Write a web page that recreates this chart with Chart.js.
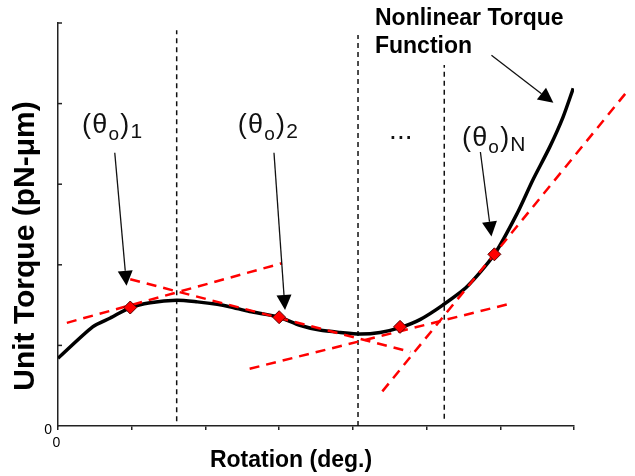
<!DOCTYPE html>
<html>
<head>
<meta charset="utf-8">
<script src="https://cdn.jsdelivr.net/npm/chart.js@4.4.1/dist/chart.umd.min.js"></script>
<style>
html,body{margin:0;padding:0;background:#fff;}
</style>
</head>
<body>
<canvas id="torqueChart" width="635" height="476"></canvas>
<script>
// nonlinear torque curve (rotation, unit torque)
const curveX = [0, 0.47, 0.71, 0.98, 1.25, 1.61, 1.89, 2.16, 2.33, 2.60, 3.00, 3.28, 3.55, 3.83, 4.10, 4.37, 4.64, 4.91, 5.22, 5.55, 5.92, 6.23, 6.44, 6.67, 6.85, 6.99];
const curveY = [0.84, 1.23, 1.34, 1.47, 1.53, 1.56, 1.54, 1.51, 1.48, 1.42, 1.35, 1.25, 1.19, 1.16, 1.14, 1.16, 1.22, 1.32, 1.50, 1.73, 2.13, 2.64, 3.05, 3.46, 3.83, 4.19];

// linearisation points
const markerX = [0.98, 3.00, 4.64, 5.92];
const markerY = [1.47, 1.35, 1.23, 2.13];

// tangent lines at each point
const tangentStartX = [0.12, 0.98, 2.60, 4.40];
const tangentStartY = [1.28, 1.82, 0.71, 0.43];
const tangentEndX = [3.04, 4.78, 6.10, 7.72];
const tangentEndY = [2.02, 0.92, 1.51, 4.15];

// dashed vertical dividers
const guideX = [1.61, 4.07, 5.24];
const guideTop = [4.91, 4.85, 4.48];
const guideBottom = [0.06, 0, 0.09];

const xTickLabels = ['0', '', '', '', '', '', '', ''];
const yTickLabels = ['0', '', '', '', '', ''];

// annotations
const labelSub = ['1', '2', 'N'];
const labelX = [0.326, 2.44, 5.48];
const labelY = [3.635, 3.635, 3.48];
const arrowFromX = [0.77, 2.93, 5.73, 5.88];
const arrowFromY = [3.39, 3.39, 3.40, 4.60];
const arrowToX = [0.93, 3.08, 5.88, 6.72];
const arrowToY = [1.74, 1.44, 2.35, 4.01];

const FONT = "'Liberation Sans', Arial, sans-serif";
Chart.defaults.font.family = FONT;
Chart.defaults.color = '#000';

const datasets = [];
datasets.push({
  data: markerX.map((x, i) => ({x: x, y: markerY[i]})),
  showLine: false,
  pointStyle: 'rectRot',
  pointRadius: 6.5,
  backgroundColor: '#ff0000',
  borderColor: '#5a0000',
  borderWidth: 1,
  order: 0
});
tangentStartX.forEach((x, i) => {
  datasets.push({
    data: [{x: x, y: tangentStartY[i]}, {x: tangentEndX[i], y: tangentEndY[i]}],
    showLine: true,
    borderColor: '#ff0000',
    borderWidth: 2.5,
    borderDash: [10, 7],
    pointRadius: 0,
    clip: false,
    order: 1
  });
});
datasets.push({
  data: curveX.map((x, i) => ({x: x, y: curveY[i]})),
  showLine: true,
  borderColor: '#000',
  borderWidth: 3.5,
  tension: 0.25,
  pointRadius: 0,
  order: 2
});
guideX.forEach((x, i) => {
  datasets.push({
    data: [{x: x, y: guideBottom[i]}, {x: x, y: guideTop[i]}],
    showLine: true,
    borderColor: '#111',
    borderWidth: 1.5,
    borderDash: [5, 4],
    pointRadius: 0,
    order: 3
  });
});

function arrow(ctx, x1, y1, x2, y2) {
  const a = Math.atan2(y2 - y1, x2 - x1);
  const L = 15, W = 7.5;
  const bx = x2 - L * Math.cos(a), by = y2 - L * Math.sin(a);
  ctx.beginPath();
  ctx.moveTo(x1, y1);
  ctx.lineTo(bx, by);
  ctx.stroke();
  ctx.beginPath();
  ctx.moveTo(x2, y2);
  ctx.lineTo(bx + W * Math.sin(a), by - W * Math.cos(a));
  ctx.lineTo(bx - W * Math.sin(a), by + W * Math.cos(a));
  ctx.closePath();
  ctx.fill();
}

function thetaLabel(ctx, x, y, sub) {
  const parts = [
    ['(', '27px', 0], ['θ', '27px', 0], ['o', '19px', 7], [')', '27px', 0], [sub, '21px', 5]
  ];
  parts.forEach(p => {
    ctx.font = p[1] + ' ' + FONT;
    ctx.fillText(p[0], x, y + p[2]);
    x += ctx.measureText(p[0]).width + 1.2;
  });
}

const annotate = {
  id: 'annotate',
  afterDraw(chart) {
    const {ctx, chartArea: a} = chart;
    const xs = chart.scales.x, ys = chart.scales.y;
    ctx.save();
    // inward y ticks
    ctx.strokeStyle = '#222';
    ctx.lineWidth = 1.5;
    for (let v = 1; v <= 5; v++) {
      const py = ys.getPixelForValue(v);
      ctx.beginPath();
      ctx.moveTo(a.left, py);
      ctx.lineTo(a.left + 4, py);
      ctx.stroke();
    }
    // arrows
    ctx.strokeStyle = '#111';
    ctx.fillStyle = '#000';
    ctx.lineWidth = 1.3;
    arrowFromX.forEach((x, i) => {
      arrow(ctx, xs.getPixelForValue(x), ys.getPixelForValue(arrowFromY[i]),
        xs.getPixelForValue(arrowToX[i]), ys.getPixelForValue(arrowToY[i]));
    });
    // labels
    ctx.fillStyle = '#111';
    ctx.textAlign = 'left';
    ctx.textBaseline = 'alphabetic';
    labelSub.forEach((s, i) => {
      thetaLabel(ctx, xs.getPixelForValue(labelX[i]), ys.getPixelForValue(labelY[i]), s);
    });
    ctx.font = '28px ' + FONT;
    ctx.textAlign = 'center';
    ctx.fillText('...', xs.getPixelForValue(4.65), ys.getPixelForValue(3.56));
    ctx.textAlign = 'left';
    ctx.fillStyle = '#000';
    ctx.font = 'bold 23px ' + FONT;
    ctx.fillText('Nonlinear Torque', xs.getPixelForValue(4.30), ys.getPixelForValue(4.975));
    ctx.fillText('Function', xs.getPixelForValue(4.30), ys.getPixelForValue(4.63));
    // axis titles
    ctx.font = 'bold 23px ' + FONT;
    ctx.textAlign = 'center';
    ctx.fillText('Rotation (deg.)', a.left + 233, a.bottom + 41);
    ctx.translate(a.left - 32, a.top + 223);
    ctx.rotate(-Math.PI / 2);
    ctx.font = 'bold 30px ' + FONT;
    ctx.textBaseline = 'middle';
    ctx.fillText('Unit Torque (pN-μm)', 0, 0);
    ctx.restore();
  }
};

new Chart(document.getElementById('torqueChart'), {
  type: 'scatter',
  data: {datasets: datasets},
  options: {
    responsive: false,
    animation: false,
    layout: {padding: {left: 0, top: 23, right: 61, bottom: 0}},
    plugins: {legend: {display: false}, tooltip: {enabled: false}},
    scales: {
      x: {
        type: 'linear', min: 0, max: 7,
        afterFit: s => { s.height = 50; },
        ticks: {stepSize: 1, padding: 5, labelOffset: -1.5, font: {size: 14}, color: '#000',
          callback: (v, i) => xTickLabels[i]},
        grid: {drawOnChartArea: false, tickLength: 4, color: '#222', lineWidth: 1.5},
        border: {color: '#222', width: 1.5}
      },
      y: {
        type: 'linear', min: 0, max: 5,
        afterFit: s => { s.width = 58; },
        ticks: {stepSize: 1, padding: 6, labelOffset: 4, font: {size: 14}, color: '#000',
          callback: (v, i) => yTickLabels[i]},
        grid: {display: false, drawTicks: false},
        border: {color: '#222', width: 1.5}
      }
    }
  },
  plugins: [annotate]
});
</script>
</body>
</html>
